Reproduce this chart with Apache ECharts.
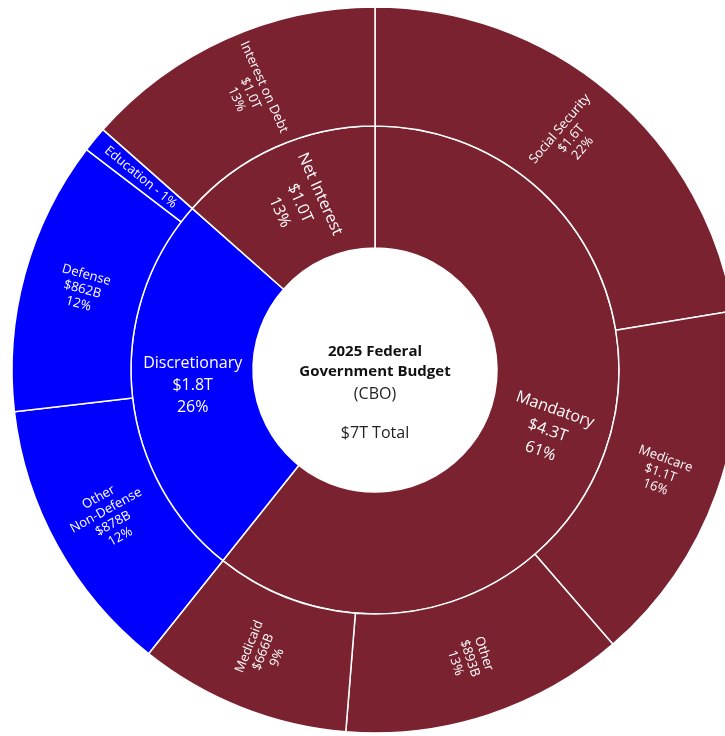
<!DOCTYPE html>
<html>
<head>
<meta charset="utf-8">
<script src="https://cdn.jsdelivr.net/npm/echarts@6/dist/echarts.min.js"></script>
<style>
  html, body { margin: 0; padding: 0; background: #ffffff; }
  #chart { width: 725px; height: 736px; }
</style>
</head>
<body>
<div id="chart"></div>
<script>
// Budget categories (outlays in billions of dollars)
const groupNames = ['Mandatory', 'Discretionary', 'Net Interest'];
const mandatoryNames = ['Social Security', 'Medicare', 'Other', 'Medicaid'];
const mandatoryValues = [1580, 1145, 893, 666];
const discretionaryNames = ['Other\nNon-Defense', 'Defense', 'Education'];
const discretionaryValues = [878, 862, 80];
const interestNames = ['Interest on Debt'];
const interestValues = [951];
const titleLines = ['2025 Federal', 'Government Budget', '(CBO)'];

const MAROON = '#7A2230';
const BLUE = '#0000FF';
const FONT = '"Open Sans", "Noto Sans", sans-serif';

const sum = arr => arr.reduce((a, b) => a + b, 0);
const total = sum(mandatoryValues) + sum(discretionaryValues) + sum(interestValues);

function money(v) {
  return Math.round(v / 100) >= 10 ? '$' + (v / 1000).toFixed(1) + 'T' : '$' + v + 'B';
}
function pct(v) {
  return Math.round(v / total * 100) + '%';
}

function children(names, values, color) {
  return names.map((n, i) => ({ name: n, value: values[i], itemStyle: { color } }));
}

const data = [
  {
    name: groupNames[0],
    itemStyle: { color: MAROON },
    children: children(mandatoryNames, mandatoryValues, MAROON)
  },
  {
    name: groupNames[1],
    itemStyle: { color: BLUE },
    label: { rotate: 0 },
    children: children(discretionaryNames, discretionaryValues, BLUE)
  },
  {
    name: groupNames[2],
    itemStyle: { color: MAROON },
    children: children(interestNames, interestValues, MAROON)
  }
];

function labelText(p) {
  const v = p.value;
  if (v / total < 0.02) return p.name + ' - ' + pct(v);
  return p.name + '\n' + money(v) + '\n' + pct(v);
}

const cx = 375, cy = 370;

const chart = echarts.init(document.getElementById('chart'), null, { renderer: 'canvas' });
chart.setOption({
  animation: false,
  series: [{
    type: 'sunburst',
    center: [cx, cy],
    sort: null,
    startAngle: 90,
    nodeClick: false,
    data: data,
    itemStyle: { borderColor: '#ffffff', borderWidth: 1.5 },
    emphasis: { disabled: true },
    label: {
      color: '#ffffff',
      fontFamily: FONT,
      rotate: 'radial',
      align: 'center',
      formatter: labelText
    },
    levels: [
      {},
      { r0: 122, r: 244, label: { fontSize: 16, lineHeight: 22 } },
      { r0: 244, r: 363, label: { fontSize: 13, lineHeight: 15 } }
    ]
  }],
  graphic: [
    { type: 'text', x: cx, y: 352, style: { text: titleLines[0], fill: '#111', font: 'bold 15px ' + FONT, textAlign: 'center', textVerticalAlign: 'middle' } },
    { type: 'text', x: cx, y: 372, style: { text: titleLines[1], fill: '#111', font: 'bold 15px ' + FONT, textAlign: 'center', textVerticalAlign: 'middle' } },
    { type: 'text', x: cx, y: 394, style: { text: titleLines[2], fill: '#222', font: '16px ' + FONT, textAlign: 'center', textVerticalAlign: 'middle' } },
    { type: 'text', x: cx, y: 433, style: { text: '$' + Math.round(total / 1000) + 'T Total', fill: '#222', font: '16px ' + FONT, textAlign: 'center', textVerticalAlign: 'middle' } }
  ]
});
</script>
</body>
</html>
